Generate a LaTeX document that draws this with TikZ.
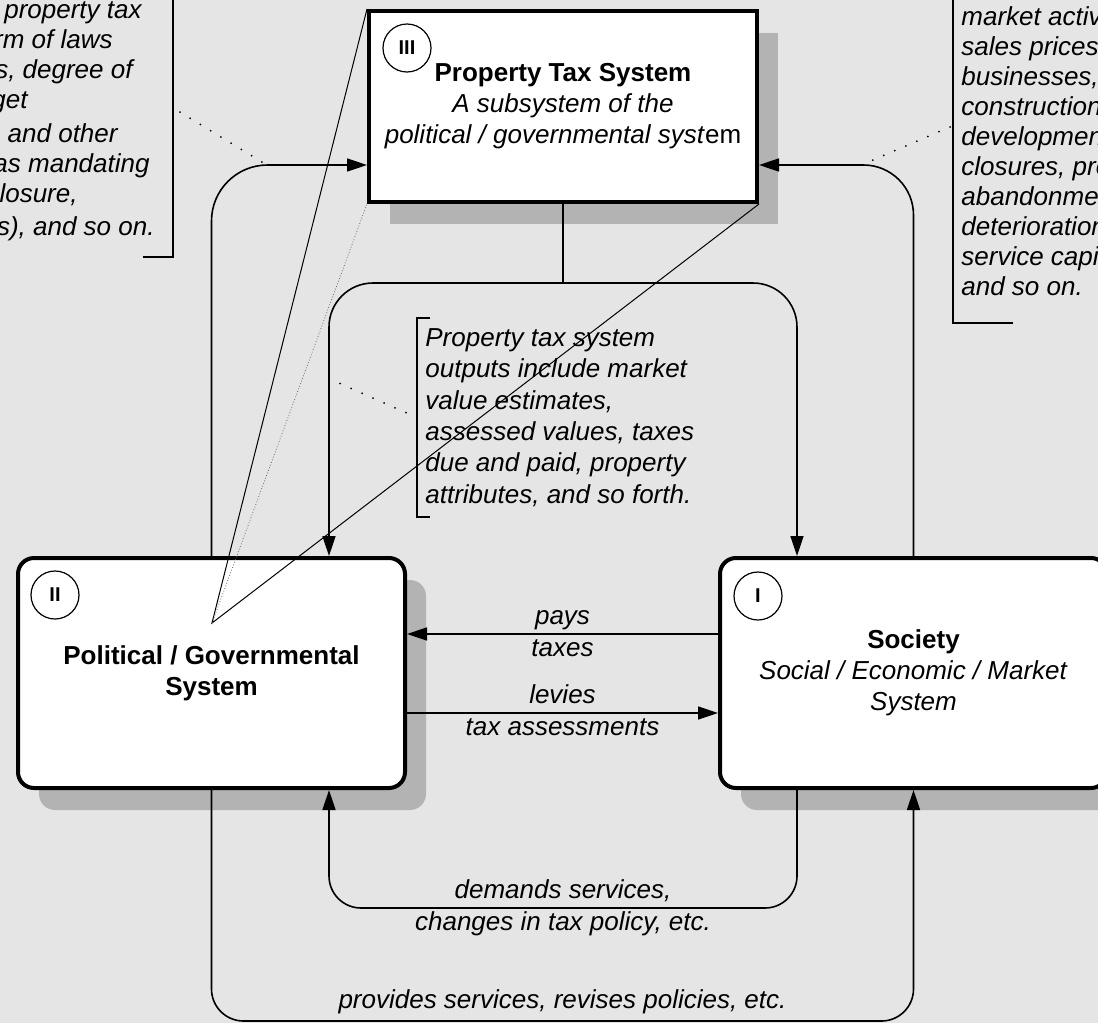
\documentclass[tikz,border=0pt]{standalone}
\usepackage{fontspec}
\setmainfont{Liberation Sans}
\usepackage{xcolor}
\usepackage{tikz}
\usetikzlibrary{positioning,shadows,arrows.meta}
\definecolor{bggray}{HTML}{E5E5E5}
\definecolor{shadegray}{HTML}{B3B3B3}

\begin{document}
\begin{tikzpicture}[x=0.5pt,y=-0.5pt,
  every node/.style={font=\fontsize{13}{15.5}\selectfont},
  sysbox/.style={draw,fill=white,line width=2pt,minimum width=193.5pt,minimum height=115pt,align=center,
    drop shadow={shadow xshift=10.5pt,shadow yshift=-11pt,fill=shadegray,opacity=1}},
  tag/.style={draw,circle,line width=0.6pt,minimum size=24pt,inner sep=0pt,font=\fontsize{10}{12}\selectfont\bfseries},
  wire/.style={line width=0.8pt,-{Triangle[length=10pt,width=6.5pt]}},
  lbl/.style={font=\fontsize{13}{15.5}\selectfont\itshape,inner sep=1.5pt,text height=9.4pt,text depth=2.7pt},
  note/.style={font=\fontsize{13}{15.7}\selectfont\itshape,align=left,inner xsep=4pt,inner ysep=5pt},
  bracket/.style={line width=1pt},
  callout/.style={line width=1pt,line cap=round,dash pattern=on 0pt off 6pt}]
  \useasboundingbox (0,0) rectangle (1098,1023);
  \fill[bggray] (0,0) rectangle (1098,1023);

  % the three systems
  \node[sysbox,rounded corners=8pt] (gov) at (211.5,673) {\textbf{Political / Governmental}\\\textbf{System}};
  \node[sysbox,rounded corners=8pt] (soc) at (913.5,673) {\textbf{Society}\\\textit{Social / Economic / Market}\\\textit{System}};
  \node[sysbox,minimum width=194pt,minimum height=95.5pt] (tax) at (563,106.5)
    {\textbf{Property Tax System}\\\textit{A subsystem of the}\\\textit{political / governmental syst}em};
  \node[tag] (tagII) at ([shift={(39,39)}]gov.north west) {II};
  \node[tag] (tagI) at ([shift={(40,40)}]soc.north west) {I};
  \node[tag] (tagIII) at ([shift={(40,39)}]tax.north west) {III};

  % flows
  \draw[wire,rounded corners=28pt] (gov.north) |- ([yshift=-29.25pt]tax.west);
  \draw[wire,rounded corners=25pt] (soc.north) |- ([yshift=-29.25pt]tax.east);
  \draw[wire,-] (tax.south) -- ++(0,79) coordinate (fork);
  \draw[wire,rounded corners=22pt] (fork) -| ([xshift=58.75pt]gov.north);
  \draw[wire,rounded corners=22pt] (fork) -| ([xshift=-58.25pt]soc.north);
  \draw[wire] ([yshift=19.5pt]soc.west) -- node[lbl,above]{pays} node[lbl,below]{taxes} ([yshift=19.5pt]gov.east);
  \draw[wire] ([yshift=-20pt]gov.east) -- node[lbl,above]{levies} node[lbl,below]{tax assessments} ([yshift=-20pt]soc.west);
  \draw[wire,rounded corners=16pt] ([xshift=-58.25pt]soc.south) -- ++(0,118)
    -| node[lbl,pos=.25,above]{demands services,} node[lbl,pos=.25,below]{changes in tax policy, etc.}
    ([xshift=58.75pt]gov.south);
  \draw[wire,rounded corners=16pt] (gov.south) -- ++(0,231)
    -| node[lbl,pos=.25,above,inner sep=3pt]{provides services, revises policies, etc.} (soc.south);

  % subsystem lines
  \coordinate (apex) at (212,623);
  \draw[line width=0.5pt] (tax.north west) -- (apex) -- (tax.south east);
  \draw[line width=0.4pt,densely dotted,black!60] (apex) -- (tax.south west);

  % notes
  \node[note,anchor=north west] (outnote) at (417,318)
    {Property tax system\\outputs include market\\value estimates,\\assessed values, taxes\\due and paid, property\\attributes, and so forth.};
  \draw[bracket] ([xshift=6.5pt]outnote.north west) -- (outnote.north west) -- (outnote.south west) -- ([xshift=6.5pt]outnote.south west);
  \draw[callout] (outnote.west) -- ++(-86,-38);

  \node[note,anchor=north west,font=\fontsize{13}{15}\selectfont\itshape,inner ysep=0pt] (mktnote) at (953,6)
    {market activ\\sales prices\\businesses,\\construction\\development\\closures, pro\\abandonmen\\deterioration\\service capi\\and so on.};
  \draw[bracket] (mktnote.north west) ++(0,-20) -- (mktnote.west |- 0,323) -- ++(60,0);
  \draw[callout] (950,127) -- (866,163);

  \foreach \xe/\yc/\txt [count=\i] in {142/13/f property tax,113/43/rm of laws,133/73/{s, degree of},28/103/get,
      118/137/and other,150/167/as mandating,78/197/{closure,},155/230/{s), and so on.}}
    \node[lbl,anchor=mid east,inner sep=0pt,text height=,text depth=] (inpnote\i) at (\xe,\yc) {\txt};
  \draw[bracket] (173,-5) -- (173,257) -- (143,257);
  \draw[callout] (180,112) -- (262,162);
\end{tikzpicture}
\end{document}
